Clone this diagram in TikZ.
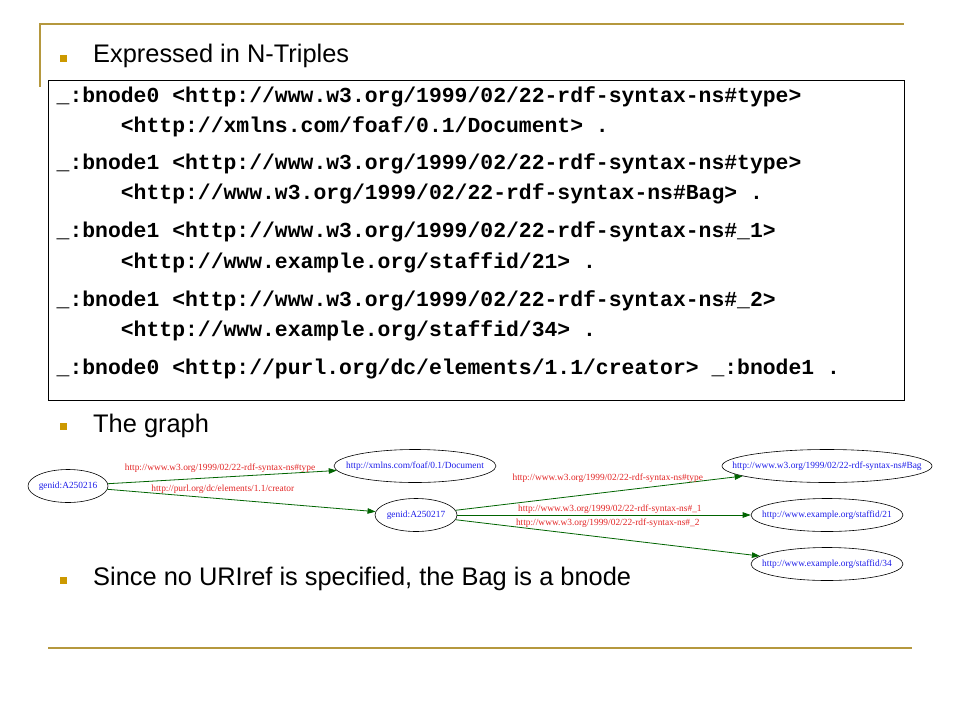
\documentclass[tikz,border=0pt]{standalone}
\usepackage{fontspec}
\setmainfont{Liberation Sans}
\newfontfamily\codefont{Liberation Mono}
\newfontfamily\dotfont{Liberation Serif}
\usetikzlibrary{arrows.meta,shapes.geometric}
\definecolor{ink}{RGB}{0,0,0}
\definecolor{gold}{RGB}{181,152,62}
\definecolor{bulletgold}{RGB}{204,153,0}
\definecolor{edgegreen}{RGB}{0,100,0}
\definecolor{labelred}{RGB}{226,36,36}
\definecolor{nodeblue}{RGB}{28,28,232}
\newcommand{\inell}[1]{\makebox[0pt]{#1}}

\begin{document}
\begin{tikzpicture}[
  x=1pt, y=-1pt, >={Triangle[length=8pt,width=5.5pt]},
  rulebar/.style={draw=gold, line width=2pt},
  bullet/.style={fill=bulletgold, minimum size=7pt, inner sep=0pt},
  point/.style={anchor=base west, inner sep=0pt, font=\fontsize{25.4}{25.4}\selectfont},
  code/.style={anchor=base west, inner sep=0pt, font=\codefont\bfseries\fontsize{21.4}{21.4}\selectfont},
  res/.style={ellipse, draw=ink, line width=0.6pt, inner sep=0pt, minimum height=33pt, text=nodeblue, font=\dotfont\fontsize{9.4}{9.4}\selectfont},
  pred/.style={->, line width=0.8pt, draw=edgegreen},
  lbl/.style={text=labelred, inner sep=1.5pt, font=\dotfont\fontsize{9.4}{9.4}\selectfont},
]
\useasboundingbox (0,0) rectangle (960,720);
\def\xa{56.5}
\def\xb{120.7}
% ---------------------------------------------------------------- frame
\draw[rulebar] (40,24) -- (904,24);
\draw[rulebar] (40,23) -- (40,87);
\draw[rulebar] (48,648) -- (912,648);

% ---------------------------------------------------------------- bullets
\node[bullet] (b1) at (63.5,58.5) {};
\node[point] (p1) at (93,62) {Expressed in N-Triples};
\node[bullet] (b2) at (63.5,426.5) {};
\node[point] (p2) at (93,432) {The graph};
\node[bullet] (b3) at (63.5,580.5) {};
\node[point] (p3) at (93,585) {Since no URIref is specified, the Bag is a bnode};

% ---------------------------------------------------------------- n-triples
\draw[ink, line width=1pt] (48,80) rectangle (904,400);
\node[code] (t1) at (\xa,102) {\_:bnode0 <http://www.w3.org/1999/02/22-rdf-syntax-ns\#type>};
\node[code] (t1o) at (\xb,132) {<http://xmlns.com/foaf/0.1/Document> .};
\node[code] (t2) at (\xa,169) {\_:bnode1 <http://www.w3.org/1999/02/22-rdf-syntax-ns\#type>};
\node[code] (t2o) at (\xb,199) {<http://www.w3.org/1999/02/22-rdf-syntax-ns\#Bag> .};
\node[code] (t3) at (\xa,237) {\_:bnode1 <http://www.w3.org/1999/02/22-rdf-syntax-ns\#\_1>};
\node[code] (t3o) at (\xb,268) {<http://www.example.org/staffid/21> .};
\node[code] (t4) at (\xa,306) {\_:bnode1 <http://www.w3.org/1999/02/22-rdf-syntax-ns\#\_2>};
\node[code] (t4o) at (\xb,336) {<http://www.example.org/staffid/34> .};
\node[code] (t5) at (\xa,374) {\_:bnode0 <http://purl.org/dc/elements/1.1/creator> \_:bnode1 .};

% ---------------------------------------------------------------- graph
\node[res, minimum width=80pt] (g216) at (68,486) {\inell{genid:A250216}};
\node[res, minimum width=162pt] (doc) at (415,466) {\inell{http://xmlns.com/foaf/0.1/Document}};
\node[res, minimum width=82pt] (g217) at (416,515) {\inell{genid:A250217}};
\node[res, minimum width=210pt] (bag) at (827,466) {\inell{http://www.w3.org/1999/02/22-rdf-syntax-ns\#Bag}};
\node[res, minimum width=152pt] (s21) at (827,515) {\inell{http://www.example.org/staffid/21}};
\node[res, minimum width=152pt] (s34) at (827,564) {\inell{http://www.example.org/staffid/34}};

\draw[pred] (g216) -- node[lbl, above=3pt, pos=0.49] {http://www.w3.org/1999/02/22-rdf-syntax-ns\#type} (doc);
\draw[pred] (g216) -- node[lbl, above=3pt, pos=0.43] {http://purl.org/dc/elements/1.1/creator} (g217);
\draw[pred] (g217) -- node[lbl, above=8pt, pos=0.53] {http://www.w3.org/1999/02/22-rdf-syntax-ns\#type} (bag);
\draw[pred] (g217) -- node[lbl, above, pos=0.52] {http://www.w3.org/1999/02/22-rdf-syntax-ns\#\_1} (s21);
\draw[pred] (g217) -- node[lbl, above=8pt, pos=0.5] {http://www.w3.org/1999/02/22-rdf-syntax-ns\#\_2} (s34);
\end{tikzpicture}
\end{document}
